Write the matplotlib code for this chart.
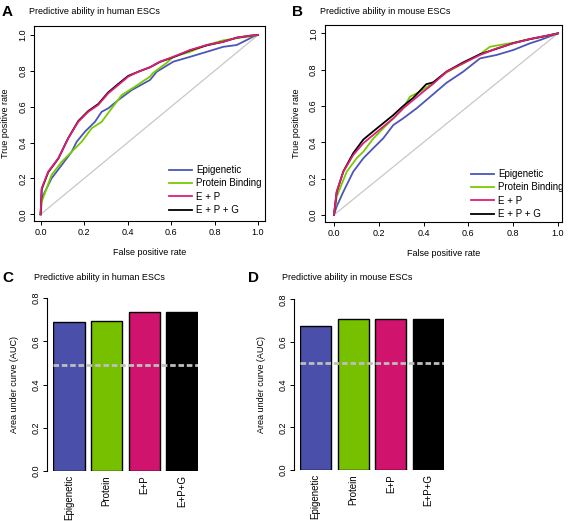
import numpy as np
import matplotlib as mpl
mpl.use('Agg')
import matplotlib.pyplot as plt

plt.rcParams['font.family'] = ['Liberation Sans', 'DejaVu Sans']

W, H = 568, 521

# ROC curves (false positive rate, true positive rate)
# human ESCs
hu_epi_fpr = [0, 0.005, 0.05, 0.097, 0.143, 0.166, 0.204, 0.25, 0.281, 0.311, 0.357, 0.419, 0.503,
              0.534, 0.61, 0.687, 0.764, 0.84, 0.902, 0.948, 0.986, 1]
hu_epi_tpr = [0, 0.089, 0.2, 0.275, 0.349, 0.405, 0.461, 0.516, 0.572, 0.591, 0.637, 0.693, 0.749,
              0.795, 0.851, 0.878, 0.906, 0.934, 0.944, 0.972, 0.996, 1]
hu_pro_fpr = [0, 0.005, 0.05, 0.097, 0.143, 0.189, 0.235, 0.281, 0.327, 0.373, 0.434, 0.503,
              0.518, 0.58, 0.61, 0.687, 0.764, 0.84, 0.917, 0.98, 1]
hu_pro_tpr = [0, 0.07, 0.219, 0.293, 0.349, 0.405, 0.48, 0.516, 0.591, 0.665, 0.712, 0.768,
              0.789, 0.845, 0.878, 0.906, 0.944, 0.97, 0.985, 0.994, 1]
hu_ep_fpr = [0, 0.005, 0.035, 0.081, 0.127, 0.173, 0.219, 0.265, 0.311, 0.357, 0.403, 0.449,
             0.503, 0.549, 0.61, 0.687, 0.764, 0.84, 0.902, 0.964, 1]
hu_ep_tpr = [0, 0.145, 0.238, 0.312, 0.424, 0.516, 0.572, 0.61, 0.675, 0.721, 0.768, 0.795,
             0.82, 0.851, 0.878, 0.916, 0.944, 0.962, 0.985, 0.996, 1]
hu_epg_fpr = [0, 0.005, 0.035, 0.081, 0.127, 0.173, 0.219, 0.265, 0.311, 0.357, 0.403, 0.449,
              0.503, 0.549, 0.61, 0.687, 0.764, 0.84, 0.902, 0.964, 1]
hu_epg_tpr = [0, 0.14, 0.235, 0.31, 0.425, 0.52, 0.576, 0.615, 0.68, 0.727, 0.772, 0.795,
              0.82, 0.85, 0.876, 0.914, 0.942, 0.962, 0.985, 0.996, 1]

# mouse ESCs
mo_epi_fpr = [0, 0.012, 0.042, 0.086, 0.131, 0.175, 0.22, 0.265, 0.309, 0.369, 0.429, 0.503,
              0.577, 0.652, 0.726, 0.8, 0.875, 0.92, 1]
mo_epi_tpr = [0, 0.046, 0.128, 0.238, 0.312, 0.367, 0.422, 0.495, 0.532, 0.587, 0.65, 0.728,
              0.789, 0.862, 0.881, 0.908, 0.945, 0.963, 1]
mo_pro_fpr = [0, 0.012, 0.057, 0.101, 0.131, 0.175, 0.22, 0.265, 0.309, 0.339, 0.384, 0.429,
              0.503, 0.577, 0.652, 0.696, 0.741, 0.8, 0.875, 0.95, 1]
mo_pro_tpr = [0, 0.1, 0.238, 0.312, 0.348, 0.42, 0.477, 0.532, 0.587, 0.651, 0.679, 0.716,
              0.785, 0.835, 0.885, 0.926, 0.936, 0.948, 0.969, 0.985, 1]
mo_ep_fpr = [0, 0.012, 0.042, 0.086, 0.131, 0.175, 0.22, 0.265, 0.309, 0.354, 0.399, 0.443,
             0.503, 0.577, 0.652, 0.726, 0.8, 0.875, 0.95, 1]
mo_ep_tpr = [0, 0.128, 0.238, 0.33, 0.395, 0.44, 0.486, 0.532, 0.587, 0.633, 0.679, 0.722,
             0.789, 0.835, 0.881, 0.917, 0.945, 0.969, 0.987, 1]
mo_epg_fpr = [0, 0.012, 0.042, 0.086, 0.131, 0.175, 0.22, 0.265, 0.309, 0.354, 0.412, 0.443,
              0.503, 0.577, 0.652, 0.726, 0.8, 0.875, 0.95, 1]
mo_epg_tpr = [0, 0.125, 0.24, 0.34, 0.415, 0.46, 0.505, 0.55, 0.6, 0.645, 0.72, 0.73,
              0.79, 0.84, 0.885, 0.915, 0.946, 0.968, 0.987, 1]

# AUC bars
bar_labels = ['Epigenetic', 'Protein', 'E+P', 'E+P+G']
auc_human = [0.688, 0.694, 0.734, 0.735]
auc_mouse = [0.675, 0.709, 0.709, 0.709]
random_human = 0.49
random_mouse = 0.5

leg_labels = ['Epigenetic', 'Protein Binding', 'E + P', 'E + P + G']
line_cols = ['#4C55B8', '#77CC00', '#DD1E78', '#000000']
bar_cols = ['#4A4FAA', '#77C000', '#D0146E', '#000000']


def rect(l, r, t, b):
    return [l / W, 1 - b / H, (r - l) / W, (b - t) / H]


fig = plt.figure(figsize=(W / 100., H / 100.), dpi=100)


def roc_panel(box, xlim, ylim, curves, title, letter, leg_xy):
    ax = fig.add_axes(box)
    ax.plot([0, 1], [0, 1], color='#C8C8C8', lw=0.9)
    # draw epi, protein, E+P+G, then E+P so magenta sits on black
    handles = [None] * 4
    for i in [0, 1, 3, 2]:
        fpr, tpr = curves[i]
        handles[i], = ax.plot(fpr, tpr, color=line_cols[i], lw=1.3)
    ax.set_xlim(xlim)
    ax.set_ylim(ylim)
    ticks = np.arange(0, 1.01, 0.2)
    ax.set_xticks(ticks)
    ax.set_yticks(ticks)
    ax.set_xticklabels(['%.1f' % v for v in ticks], fontsize=6.5)
    ax.set_yticklabels(['%.1f' % v for v in ticks], fontsize=6.5, rotation=90, va='center')
    ax.tick_params(length=3, width=0.7, pad=2)
    for s in ax.spines.values():
        s.set_linewidth(0.8)
    ax.set_xlabel('False positive rate', fontsize=6.5, labelpad=8)
    ax.set_ylabel('True positive rate', fontsize=6.5, labelpad=6)
    ax.legend(handles, leg_labels, loc='upper left', frameon=False, fontsize=7,
              bbox_to_anchor=(leg_xy[0] / W, 1 - leg_xy[1] / H), bbox_transform=fig.transFigure,
              handlelength=2.4, handletextpad=0.4, labelspacing=0.35, borderpad=0,
              borderaxespad=0)
    fig.text(box[0] - 33 / W, 1 - 12 / H, letter, fontsize=11, fontweight='bold', va='center')
    fig.text(box[0] - 5 / W, 1 - 12 / H, title, fontsize=6.5, va='center')
    return ax


roc_panel(rect(34.3, 265, 26, 221), (-0.029, 1.032), (-0.037, 1.05),
          [(hu_epi_fpr, hu_epi_tpr), (hu_pro_fpr, hu_pro_tpr),
           (hu_ep_fpr, hu_ep_tpr), (hu_epg_fpr, hu_epg_tpr)],
          'Predictive ability in human ESCs', 'A', (169, 165))

roc_panel(rect(325, 562, 25, 222), (-0.04, 1.018), (-0.039, 1.046),
          [(mo_epi_fpr, mo_epi_tpr), (mo_pro_fpr, mo_pro_tpr),
           (mo_ep_fpr, mo_ep_tpr), (mo_epg_fpr, mo_epg_tpr)],
          'Predictive ability in mouse ESCs', 'B', (471, 169))


def bar_panel(box, vals, rand, title, letter, letter_x, title_x):
    ax = fig.add_axes(box)
    xs = 0.2 + np.arange(4) * 1.2 + 0.5
    ax.bar(xs, vals, width=1.0, color=bar_cols, edgecolor='black', linewidth=1.0)
    ax.plot([0.2, 4.8], [rand, rand], color='#BEBEBE', lw=2.0, ls=(0, (2.0, 1.0)))
    ax.set_xlim(0.2, 4.8)
    ax.set_ylim(0, 0.8)
    for s in ['top', 'right', 'bottom']:
        ax.spines[s].set_visible(False)
    ax.spines['left'].set_position(('outward', 4))
    ax.spines['left'].set_linewidth(0.8)
    yt = np.arange(0, 0.81, 0.2)
    ax.set_yticks(yt)
    ax.set_yticklabels(['%.1f' % v for v in yt], fontsize=6.5, rotation=90, va='center')
    ax.set_xticks(xs)
    ax.set_xticklabels(bar_labels, rotation=90, fontsize=7, va='top')
    ax.tick_params(axis='x', length=0, pad=3)
    ax.tick_params(axis='y', length=3, width=0.7, pad=2)
    ax.set_ylabel('Area under curve (AUC)', fontsize=6.5, labelpad=9)
    fig.text(letter_x / W, 1 - 278 / H, letter, fontsize=11, fontweight='bold', va='center')
    fig.text(title_x / W, 1 - 277 / H, title, fontsize=6.5, va='center')
    return ax


bar_panel(rect(53, 198, 298, 471), auc_human, random_human,
          'Predictive ability in human ESCs', 'C', 2, 34)
bar_panel(rect(300, 444, 299.3, 470), auc_mouse, random_mouse,
          'Predictive ability in mouse ESCs', 'D', 248, 282)

fig.savefig('out.png', dpi=100)
